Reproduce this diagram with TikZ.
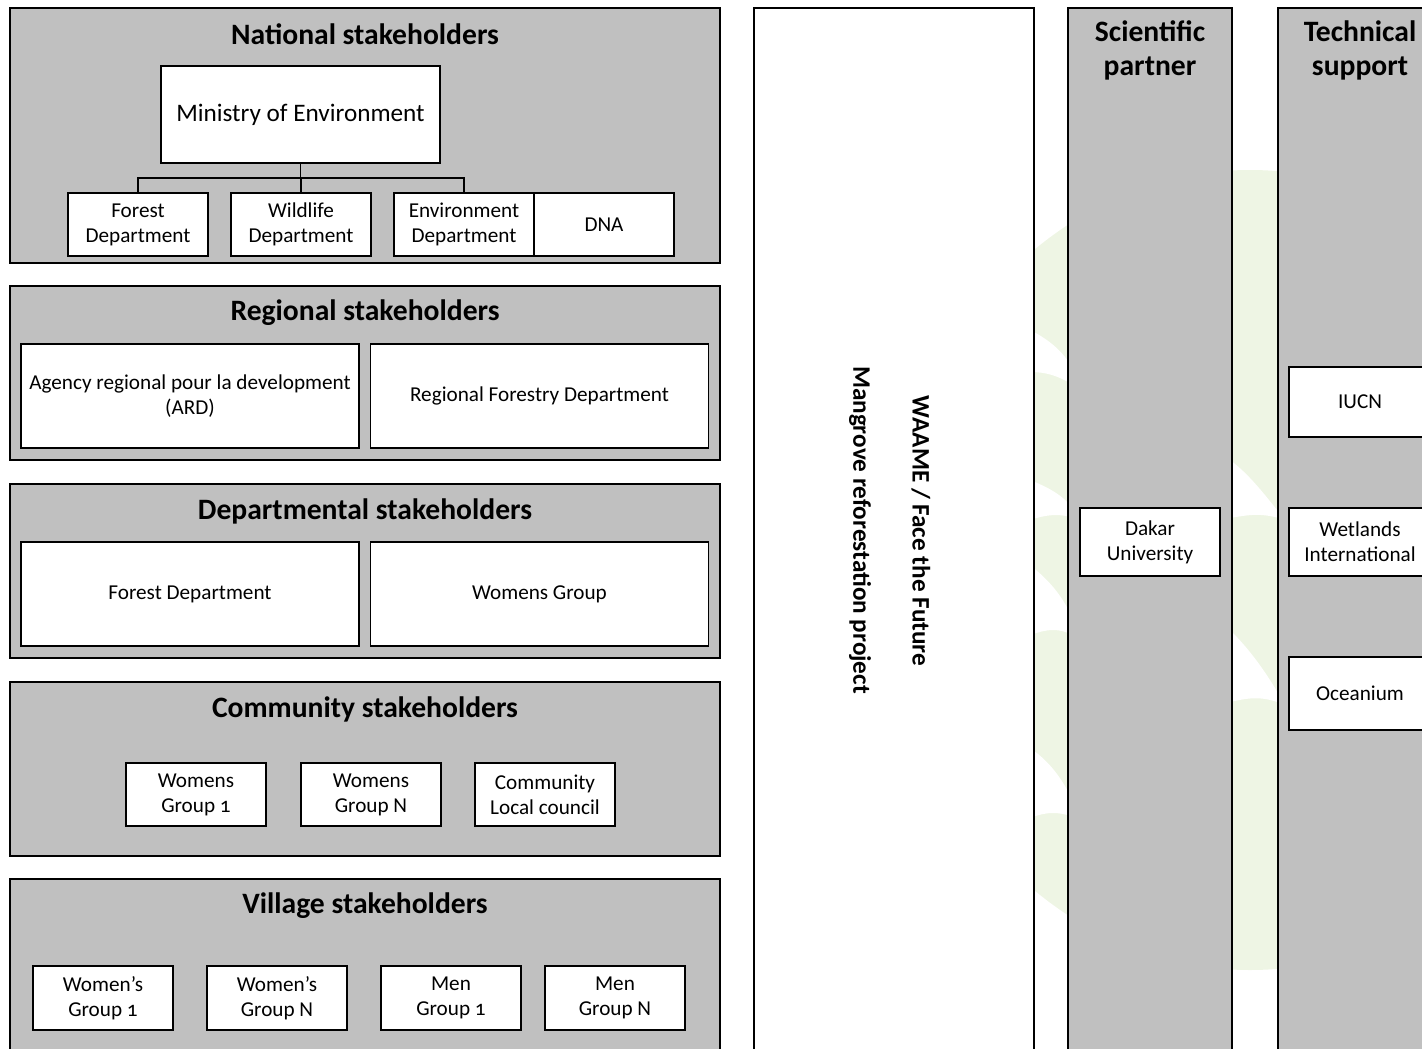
\documentclass[tikz,border=0pt]{standalone}
\usepackage{fontspec}
\setmainfont{Carlito}[Numbers=OldStyle]
\usetikzlibrary{positioning}

\definecolor{panelgray}{RGB}{192,192,192}
\definecolor{leafgreen}{RGB}{238,245,228}

\newcommand{\unitfont}{\fontsize{10.6}{12.5}\selectfont}
\newcommand{\headfont}{\fontsize{14.8}{17}\selectfont\bfseries}

\begin{document}
\begin{tikzpicture}[x=0.5pt,y=-0.5pt,
    panel/.style={draw,fill=panelgray,line width=1pt,inner sep=0pt},
    unit/.style={draw,fill=white,line width=0.8pt,align=center,inner sep=0pt,font=\unitfont},
    small/.style={minimum width=70pt,minimum height=31.5pt},
    wide/.style={minimum width=169pt,minimum height=52pt},
    head/.style={align=center,font=\headfont},
    vert/.style={rotate=-90,font=\fontsize{12.6}{15}\selectfont\bfseries}]
    \clip (0,0) rectangle (1422,1048);
    % faint leaf in the back
    \fill[leafgreen] (1250,570) ellipse [x radius=360, y radius=400];
    \fill[white] (1030,330) .. controls (1060,345) and (1075,365) .. (1080,390) .. controls (1060,375) and (1045,372) .. (1030,372) -- cycle;
    \fill[white] (1030,480) .. controls (1055,490) and (1070,500) .. (1080,520) .. controls (1060,512) and (1045,515) .. (1030,520) -- cycle;
    \fill[white] (1030,565) .. controls (1055,585) and (1070,605) .. (1080,640) .. controls (1060,625) and (1045,630) .. (1030,635) -- cycle;
    \fill[white] (1030,748) .. controls (1055,765) and (1070,790) .. (1080,820) .. controls (1060,810) and (1045,812) .. (1030,818) -- cycle;
    \fill[white] (1230,460) .. controls (1250,475) and (1265,495) .. (1285,520) .. controls (1262,512) and (1248,515) .. (1230,518) -- cycle;
    \fill[white] (1230,630) .. controls (1250,650) and (1265,670) .. (1285,705) .. controls (1262,695) and (1248,698) .. (1230,702) -- cycle;

    % left column
    \node[panel,minimum width=355pt,minimum height=127.5pt] (national) at (365,135.5) {};
    \node[head] (nationalT) at (365,34) {National stakeholders};
    \node[unit,minimum width=139.5pt,minimum height=48.5pt,font=\fontsize{12.6}{15}\selectfont] (ministry) at (300.5,114.5) {Ministry of Environment};
    \node[unit,small] (forest) at (138,224.5) {Forest\\Department};
    \node[unit,small] (wildlife) at (301,224.5) {Wildlife\\Department};
    \node[unit,small] (envdept) at (464,224.5) {Environment\\Department};
    \node[unit,small] (dna) at (604,224.5) {DNA};
    \draw[line width=0.75pt] (ministry.south) -- ++(0,14) coordinate (fork);
    \draw[line width=0.75pt] (fork) -| (forest.north);
    \draw[line width=0.75pt] (fork) -| (envdept.north);
    \draw[line width=0.75pt] (fork) -| (wildlife.north);

    \node[panel,minimum width=355pt,minimum height=87pt] (regional) at (365,373) {};
    \node[head] (regionalT) at (365,313) {Regional stakeholders};
    \node[unit,wide] (ard) at (190,396) {Agency regional pour la development\\(ARD)};
    \node[unit,wide] (rfd) at (539.5,396) {Regional Forestry Department};

    \node[panel,minimum width=355pt,minimum height=87pt] (departmental) at (365,571) {};
    \node[head] (departmentalT) at (365,511) {Departmental stakeholders};
    \node[unit,wide] (deptforest) at (190,594) {Forest Department};
    \node[unit,wide] (deptwomen) at (539.5,594) {Womens Group};

    \node[panel,minimum width=355pt,minimum height=87pt] (community) at (365,769) {};
    \node[head] (communityT) at (365,709) {Community stakeholders};
    \node[unit,small] (cwomen1) at (196,794.5) {Womens\\Group 1};
    \node[unit,small] (cwomenN) at (371,794.5) {Womens\\Group N};
    \node[unit,small] (council) at (545,794.5) {Community\\Local council};

    \node[panel,minimum width=355pt,minimum height=95.5pt] (village) at (365,974.5) {};
    \node[head] (villageT) at (365,906) {Village stakeholders};
    \node[unit,small,minimum height=32pt] (vwomen1) at (103,998) {Women’s\\Group 1};
    \node[unit,small,minimum height=32pt] (vwomenN) at (277,998) {Women’s\\Group N};
    \node[unit,small,minimum height=32pt] (vmen1) at (451,998) {Men\\Group 1};
    \node[unit,small,minimum height=32pt] (vmenN) at (615,998) {Men\\Group N};

    % project column
    \node[panel,fill=white,minimum width=140pt,minimum height=531pt] (project) at (894,539) {};
    \node[vert] (waame) at (921,531) {WAAME / Face the Future};
    \node[vert] (mangrove) at (860,530) {Mangrove reforestation project};

    % partners
    \node[panel,minimum width=82pt,minimum height=531pt] (scientific) at (1150,539) {};
    \node[head] (scientificT) at (1150,50) {Scientific\\partner};
    \node[unit,minimum width=70pt,minimum height=34pt] (dakar) at (1150,542) {Dakar\\University};

    \node[panel,minimum width=82pt,minimum height=531pt] (technical) at (1360,539) {};
    \node[head] (technicalT) at (1360,50) {Technical\\support};
    \node[unit,minimum width=71pt,minimum height=35pt] (iucn) at (1360,402) {IUCN};
    \node[unit,minimum width=71pt,minimum height=34pt] (wetlands) at (1360,542) {Wetlands\\International};
    \node[unit,minimum width=71pt,minimum height=36.5pt] (oceanium) at (1360,693.5) {Oceanium};
\end{tikzpicture}
\end{document}
